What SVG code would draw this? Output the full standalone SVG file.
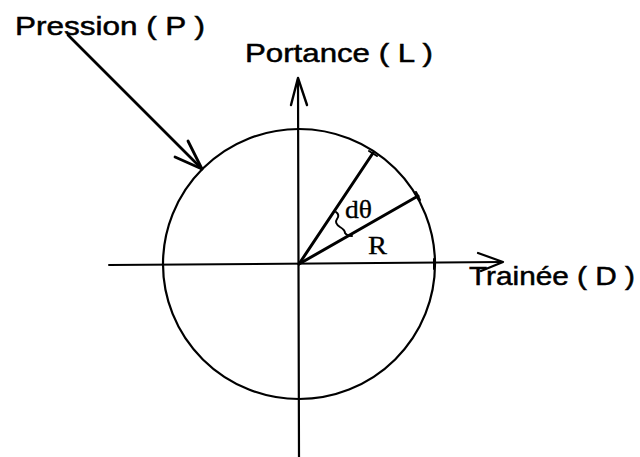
<svg xmlns="http://www.w3.org/2000/svg" width="640" height="457" viewBox="0 0 640 457">
<style>
.ln{stroke:#000;fill:none;stroke-linecap:round;stroke-linejoin:round}
.lbl{font-family:"Liberation Sans",Arial,sans-serif;font-size:26px;fill:#000;stroke:#000;stroke-width:0.5}
.sym{font-family:"Liberation Serif","Times New Roman",serif;font-size:25px;fill:#000;stroke:#000;stroke-width:0.3}
</style>
<rect width="640" height="457" fill="#fff"/>
<g id="circle">
<ellipse cx="299" cy="264" rx="136" ry="135" class="ln" stroke-width="2.2"/>
</g>
<g id="connectors">
<g id="axis-vertical">
<line x1="299" y1="457" x2="298" y2="79" class="ln" stroke-width="2.2"/>
<polyline points="291,105 298,78 307,105" class="ln" stroke-width="2.4"/>
</g>
<g id="axis-horizontal">
<line x1="109" y1="265" x2="502" y2="262" class="ln" stroke-width="2"/>
<polyline points="478,253 503,262 481,271" class="ln" stroke-width="2.2"/>
</g>
<g id="pressure-arrow">
<line x1="68" y1="35" x2="202" y2="169" class="ln" stroke-width="2.8"/>
<polyline points="188,141 202,169 175,157" class="ln" stroke-width="2.8"/>
</g>
<g id="radii">
<line x1="299" y1="264" x2="373" y2="153" class="ln" stroke-width="3"/>
<line x1="369" y1="151" x2="377" y2="156" class="ln" stroke-width="2"/>
<line x1="299" y1="264" x2="418" y2="196" class="ln" stroke-width="3"/>
<line x1="416" y1="192" x2="420" y2="200" class="ln" stroke-width="2"/>
<line x1="434" y1="259" x2="434" y2="269" class="ln" stroke-width="2"/>
<path d="M336,212 q4,3 1,7 q-3,4 3,8 q5,3 5,6 q2,3 7,3" class="ln" stroke-width="2"/>
</g>
</g>
<g id="label-pression"><text x="15" y="35" class="lbl" textLength="190" lengthAdjust="spacingAndGlyphs">Pression ( P )</text></g>
<g id="label-portance"><text x="245" y="62" class="lbl" textLength="188" lengthAdjust="spacingAndGlyphs">Portance ( L )</text></g>
<g id="label-trainee"><text x="469" y="285" class="lbl" textLength="166" lengthAdjust="spacingAndGlyphs">Trainée ( D )</text></g>
<g id="label-dtheta"><text x="345" y="218" class="sym" textLength="27" lengthAdjust="spacingAndGlyphs">dθ</text></g>
<g id="label-R"><text x="368" y="254" class="sym" textLength="19" lengthAdjust="spacingAndGlyphs">R</text></g>
</svg>
